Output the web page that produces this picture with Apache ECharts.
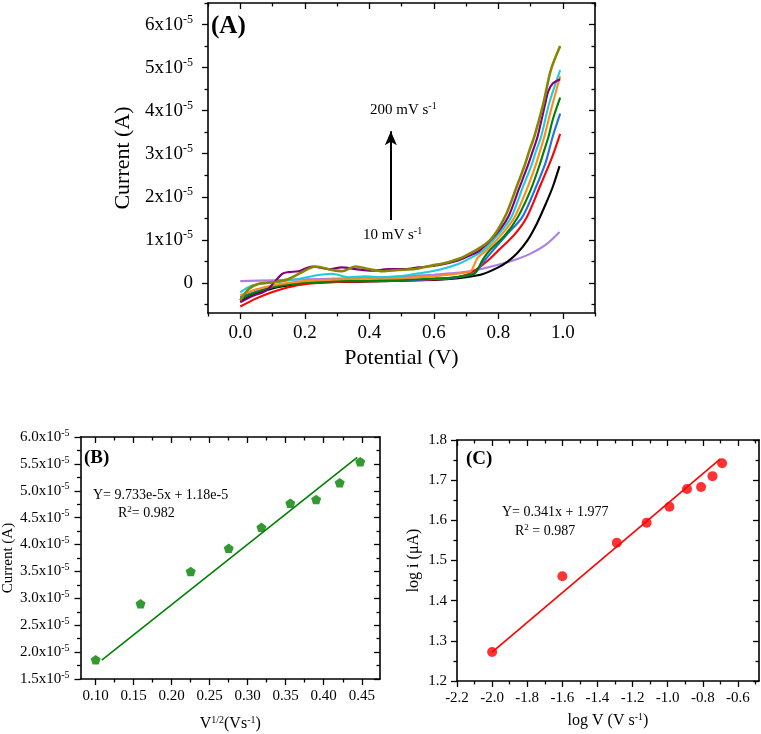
<!DOCTYPE html>
<html><head><meta charset="utf-8">
<script src="https://cdn.jsdelivr.net/npm/echarts@6/dist/echarts.min.js"></script>
<style>html,body{margin:0;padding:0;background:#fff}#c{width:761px;height:734px}</style>
</head><body><div id="c"></div>
<script>
// ---------- Panel A: CV curves, [potential (V), current (x1e-5 A)] ----------
const cv10 = [[0,0.04],[0.1,0.06],[0.2,0.08],[0.3,0.10],[0.4,0.12],[0.5,0.15],[0.6,0.19],[0.65,0.22],[0.7,0.26],[0.75,0.33],[0.8,0.42],[0.85,0.53],[0.9,0.68],[0.95,0.9],[0.99,1.18]];
const cv25 = [[0,-0.42],[0.05,-0.25],[0.1,-0.13],[0.15,-0.06],[0.2,-0.01],[0.3,0.02],[0.4,0.03],[0.5,0.05],[0.6,0.07],[0.65,0.09],[0.7,0.13],[0.75,0.2],[0.8,0.36],[0.83,0.5],[0.86,0.7],[0.89,0.98],[0.92,1.38],[0.95,1.88],[0.97,2.25],[0.99,2.71]];
const cv50 = [[0,-0.55],[0.05,-0.36],[0.1,-0.21],[0.15,-0.1],[0.2,-0.03],[0.3,0.02],[0.4,0.04],[0.5,0.05],[0.6,0.08],[0.65,0.1],[0.7,0.18],[0.73,0.3],[0.768,0.52],[0.8,0.75],[0.85,1.12],[0.888,1.52],[0.932,2.29],[0.958,2.75],[0.971,3.0],[0.992,3.46]];
const cv75 = [[0,-0.33],[0.05,-0.2],[0.1,-0.1],[0.15,-0.03],[0.2,0.01],[0.3,0.04],[0.4,0.05],[0.5,0.06],[0.6,0.09],[0.65,0.11],[0.7,0.16],[0.73,0.25],[0.75,0.45],[0.783,0.75],[0.83,1.15],[0.874,1.52],[0.91,2.1],[0.943,2.71],[0.953,2.95],[0.969,3.4],[0.992,3.93]];
const cv100 = [[0,-0.37],[0.05,-0.22],[0.1,-0.1],[0.15,-0.04],[0.2,0.0],[0.3,0.04],[0.4,0.05],[0.5,0.07],[0.6,0.1],[0.65,0.12],[0.7,0.17],[0.727,0.22],[0.753,0.55],[0.773,0.75],[0.82,1.1],[0.86,1.52],[0.9,2.15],[0.927,2.71],[0.94,3.02],[0.956,3.4],[0.969,3.79],[0.992,4.3]];
const cv125 = [[0,-0.29],[0.05,-0.15],[0.1,-0.06],[0.15,0.0],[0.2,0.04],[0.3,0.08],[0.4,0.1],[0.5,0.11],[0.6,0.15],[0.65,0.19],[0.7,0.24],[0.715,0.27],[0.737,0.59],[0.763,0.75],[0.81,1.12],[0.85,1.52],[0.89,2.2],[0.915,2.71],[0.927,3.0],[0.943,3.4],[0.969,4.17],[0.992,4.8]];
const cv150 = [[0,-0.22],[0.037,-0.06],[0.11,0.02],[0.181,0.09],[0.233,0.17],[0.285,0.21],[0.336,0.13],[0.388,0.15],[0.44,0.13],[0.49,0.15],[0.553,0.22],[0.614,0.3],[0.676,0.44],[0.717,0.59],[0.753,0.75],[0.8,1.12],[0.84,1.52],[0.875,2.2],[0.902,2.71],[0.917,3.06],[0.933,3.4],[0.958,4.17],[0.992,4.94]];
const cv175 = [[0,-0.45],[0.04,-0.3],[0.08,-0.18],[0.13,0.21],[0.15,0.25],[0.181,0.27],[0.223,0.38],[0.274,0.32],[0.315,0.36],[0.357,0.32],[0.408,0.28],[0.46,0.32],[0.511,0.32],[0.553,0.36],[0.614,0.41],[0.676,0.52],[0.717,0.65],[0.742,0.75],[0.79,1.1],[0.83,1.52],[0.865,2.2],[0.891,2.71],[0.907,3.06],[0.922,3.4],[0.946,4.17],[0.955,4.45],[0.969,4.63],[0.992,4.73]];
const cv200 = [[0,-0.41],[0.027,-0.14],[0.058,-0.02],[0.11,0.02],[0.15,0.09],[0.192,0.25],[0.233,0.38],[0.285,0.3],[0.315,0.27],[0.357,0.38],[0.398,0.32],[0.44,0.27],[0.49,0.3],[0.542,0.32],[0.593,0.4],[0.645,0.48],[0.697,0.62],[0.773,0.98],[0.82,1.52],[0.86,2.29],[0.881,2.71],[0.896,3.06],[0.912,3.4],[0.94,4.17],[0.963,4.94],[0.992,5.5]];
const cvNames = ['10 mV/s','25 mV/s','50 mV/s','75 mV/s','100 mV/s','125 mV/s','150 mV/s','175 mV/s','200 mV/s'];
const cvColors = ['#b07de6','#000000','#ff0000','#1f6fef','#008000','#ff8a1e','#1ccfd6','#800080','#868600'];
const aXTicks = [0, 0.2, 0.4, 0.6, 0.8, 1.0];
const aYTicks = [0, 1, 2, 3, 4, 5, 6];           // x1e-5 A
const arrowFrom = [0.467, 1.46], arrowTo = [0.467, 3.52];

// ---------- Panel B ----------
const bX = [0.100, 0.159, 0.225, 0.275, 0.318, 0.356, 0.390, 0.421, 0.448];
const bY = [1.86, 2.90, 3.50, 3.93, 4.32, 4.77, 4.84, 5.15, 5.54];   // x1e-5 A
const bFitX = [0.108, 0.444];
const bFitY = [1.85, 5.62];
const bXTicks = [0.10, 0.15, 0.20, 0.25, 0.30, 0.35, 0.40, 0.45];
const bYTicks = [1.5, 2.0, 2.5, 3.0, 3.5, 4.0, 4.5, 5.0, 5.5, 6.0];

// ---------- Panel C ----------
const cX = [-2.00, -1.60, -1.29, -1.12, -0.99, -0.89, -0.81, -0.745, -0.69];
const cY = [1.272, 1.461, 1.544, 1.594, 1.634, 1.678, 1.683, 1.710, 1.742];
const cFitX = [-2.0, -0.70];
const cFitY = [1.272, 1.753];
const cXTicks = [-2.2, -2.0, -1.8, -1.6, -1.4, -1.2, -1.0, -0.8, -0.6];
const cYTicks = [1.2, 1.3, 1.4, 1.5, 1.6, 1.7, 1.8];

const E5 = 1e-5;
const serif = "'Liberation Serif','Times New Roman',serif";
const mids = (arr, lo, hi) => {
  const step = arr[1] - arr[0], out = [];
  for (let v = arr[0] - step / 2; v <= hi + 1e-9; v += step) if (v >= lo - 1e-9) out.push(+v.toPrecision(10));
  return out;
};

function mkAxes(dim, grid, min, max, majors, fmt, margin, fontSize, rich, name, nameGap, nameStyle) {
  const minors = mids(majors, min, max);
  const line = {show: true, onZero: false, lineStyle: {color: '#000', width: 1.6}};
  const noLine = {show: false, onZero: false};
  const ts = {color: '#000', width: 1.3};
  const base = {type: 'value', gridIndex: grid, min, max, splitLine: {show: false}};
  const p0 = dim === 'x' ? 'bottom' : 'left', p1 = dim === 'x' ? 'top' : 'right';
  return [
    Object.assign({}, base, {position: p0, axisLine: line,
      axisTick: {show: true, inside: false, length: 6, customValues: majors, lineStyle: ts},
      axisLabel: {show: true, customValues: majors, formatter: fmt, margin, color: '#000', fontFamily: serif, fontSize, rich},
      name, nameLocation: 'middle', nameGap, nameTextStyle: nameStyle}),
    Object.assign({}, base, {position: p0, axisLine: noLine,
      axisTick: {show: true, inside: false, length: 3.5, customValues: minors, lineStyle: ts}, axisLabel: {show: false}}),
    Object.assign({}, base, {position: p1, axisLine: line,
      axisTick: {show: true, inside: true, length: 6, customValues: majors, lineStyle: ts}, axisLabel: {show: false}}),
    Object.assign({}, base, {position: p1, axisLine: noLine,
      axisTick: {show: true, inside: true, length: 3.5, customValues: minors, lineStyle: ts}, axisLabel: {show: false}})
  ];
}

const supRich = (big, small, pad) => ({
  n: {fontSize: big, fontFamily: serif, color: '#000'},
  s: {fontSize: small, fontFamily: serif, color: '#000', padding: [0, 0, pad, 0]}
});

const xAxes = [].concat(
  mkAxes('x', 0, -0.1, 1.1, aXTicks, v => v.toFixed(1), 11, 19, null,
    'Potential (V)', 34, {fontFamily: serif, fontSize: 22, color: '#000'}),
  mkAxes('x', 1, 0.08, 0.474, bXTicks, v => v.toFixed(2), 10, 15, null,
    '{n|V}{s|1/2}{n|(Vs}{s|-1}{n|)}', 36, {fontFamily: serif, fontSize: 16, color: '#000', rich: supRich(16, 10, 8)}),
  mkAxes('x', 2, -2.2, -0.48, cXTicks, v => v.toFixed(1), 10, 15, null,
    '{n|log V (V s}{s|-1}{n|)}', 31, {fontFamily: serif, fontSize: 16, color: '#000', rich: supRich(16, 10, 8)})
);
const yAxes = [].concat(
  mkAxes('y', 0, -0.7 * E5, 6.5 * E5, aYTicks.map(v => v * E5),
    v => Math.abs(v) < 1e-12 ? '0' : '{n|' + Math.round(v / E5) + 'x10}{s|-5}', 15, 19, supRich(19, 12, 10),
    'Current (A)', 71, {fontFamily: serif, fontSize: 22, color: '#000'}),
  mkAxes('y', 1, 1.5 * E5, 6.0 * E5, bYTicks.map(v => v * E5),
    v => '{n|' + (v / E5).toFixed(1) + 'x10}{s|-5}', 11, 15, supRich(15, 10, 8),
    'Current (A)', 64, {fontFamily: serif, fontSize: 15, color: '#000'}),
  mkAxes('y', 2, 1.2, 1.8, cYTicks, v => v.toFixed(1), 10, 15, null,
    'log i (μA)', 35, {fontFamily: serif, fontSize: 16, color: '#000'})
);

const cvs = [cv10, cv25, cv50, cv75, cv100, cv125, cv150, cv175, cv200];
const series = cvs.map((d, i) => ({
  type: 'line', name: cvNames[i], xAxisIndex: 0, yAxisIndex: 0,
  data: d.map(p => [p[0], p[1] * E5]),
  showSymbol: false, smooth: 0.3,
  lineStyle: {color: cvColors[i], width: i === 8 ? 2.6 : 2.1}, itemStyle: {color: cvColors[i]},
  z: 2 + i
}));
series[8].markLine = {
  silent: true, symbol: ['none', 'arrow'], symbolSize: [9, 14],
  lineStyle: {color: '#000', width: 2, type: 'solid'}, label: {show: false},
  data: [[{coord: [arrowFrom[0], arrowFrom[1] * E5]}, {coord: [arrowTo[0], arrowTo[1] * E5]}]]
};
series.push(
  {type: 'line', xAxisIndex: 4, yAxisIndex: 4, data: bFitX.map((x, i) => [x, bFitY[i] * E5]),
   showSymbol: false, lineStyle: {color: '#008000', width: 1.6}, z: 3},
  {type: 'scatter', xAxisIndex: 4, yAxisIndex: 4, data: bX.map((x, i) => [x, bY[i] * E5]),
   symbol: 'path://M50,0 L97.6,34.5 L79.4,90.5 L20.6,90.5 L2.4,34.5 Z', symbolSize: [10, 9.5],
   itemStyle: {color: '#008000'}, z: 4},
  {type: 'line', xAxisIndex: 8, yAxisIndex: 8, data: cFitX.map((x, i) => [x, cFitY[i]]),
   showSymbol: false, lineStyle: {color: '#ff0000', width: 1.6}, z: 3},
  {type: 'scatter', xAxisIndex: 8, yAxisIndex: 8, data: cX.map((x, i) => [x, cY[i]]),
   symbol: 'circle', symbolSize: 10, itemStyle: {color: '#ff0000'}, z: 4}
);

function txt(x, y, text, size, bold, rich) {
  const st = {text, x: 0, y: 0, fill: '#000', font: (bold ? 'bold ' : '') + size + 'px ' + serif,
    align: 'left', verticalAlign: 'middle'};
  if (rich) st.rich = rich;
  return {type: 'text', x, y, z: 100, style: st};
}
const gRich = (big, small, pad) => ({
  n: {fontSize: big, fontFamily: serif, fill: '#000'},
  s: {fontSize: small, fontFamily: serif, fill: '#000', padding: [0, 0, pad, 0]}
});

const chart = echarts.init(document.getElementById('c'), null, {renderer: 'canvas'});
chart.setOption({
  backgroundColor: '#fff',
  animation: false,
  grid: [
    {left: 208, top: 3, width: 387, height: 310},
    {left: 79, top: 437, width: 301, height: 242},
    {left: 457, top: 440, width: 302, height: 241}
  ],
  xAxis: xAxes,
  yAxis: yAxes,
  series,
  graphic: [
    txt(211, 27, '(A)', 25, true),
    txt(370, 110, '{n|200 mV s}{s|-1}', 15, false, gRich(15, 10, 7)),
    txt(363, 235, '{n|10 mV s}{s|-1}', 15, false, gRich(15, 10, 7)),
    txt(84, 458, '(B)', 19, true),
    txt(93, 495, 'Y= 9.733e-5x + 1.18e-5', 14, false),
    txt(118, 513, '{n|R}{s|2}{n|= 0.982}', 14, false, gRich(14, 9, 7)),
    txt(466, 459, '(C)', 19, true),
    txt(502, 512, 'Y= 0.341x + 1.977', 14, false),
    txt(515, 531, '{n|R}{s|2}{n| = 0.987}', 14, false, gRich(14, 9, 7))
  ]
});
</script>
</body></html>
